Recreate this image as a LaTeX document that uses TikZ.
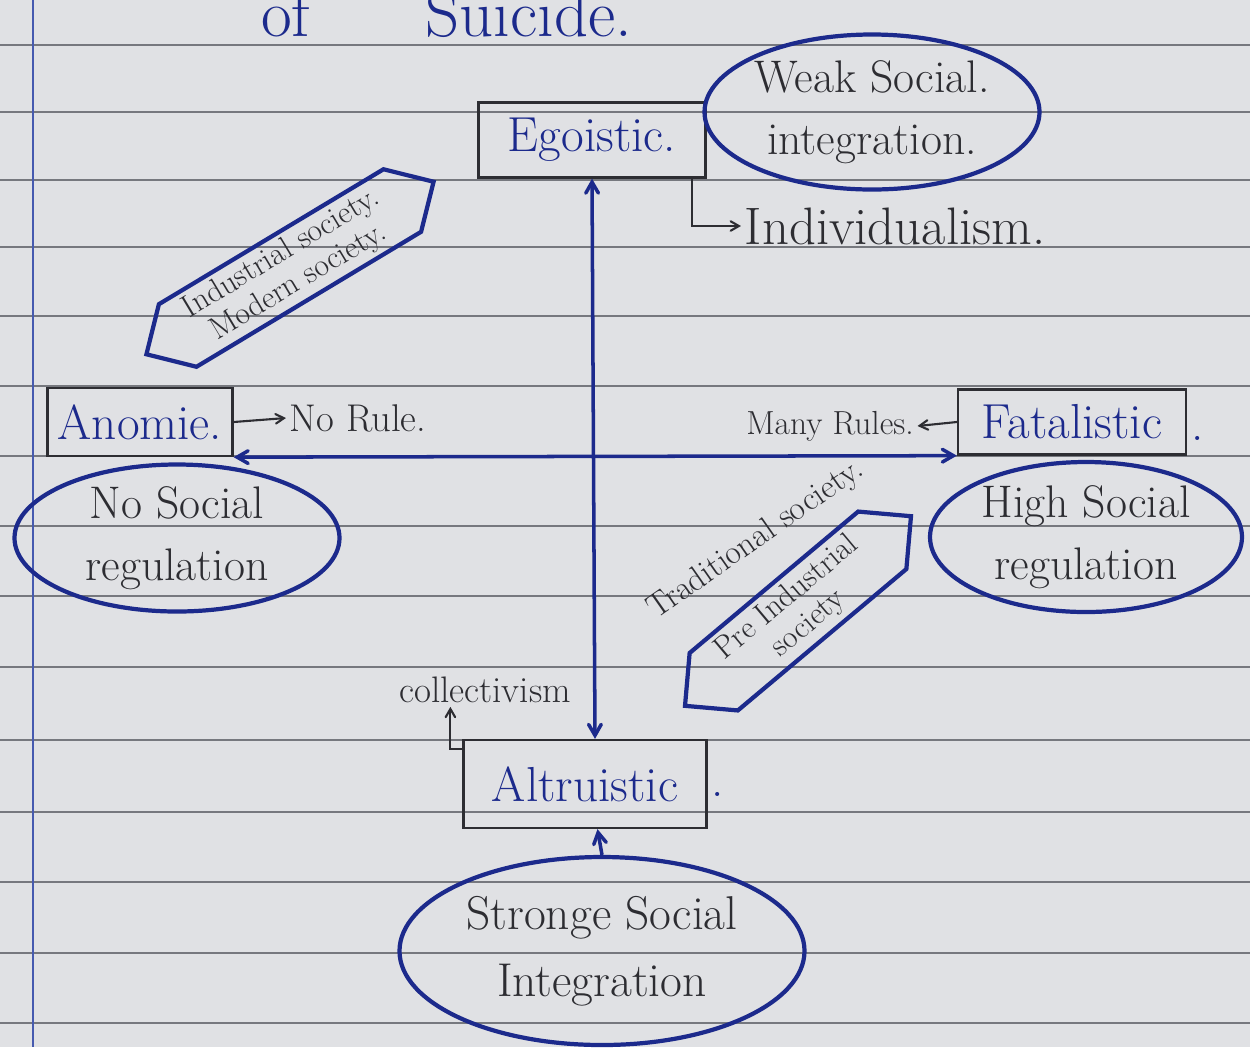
\documentclass[tikz,border=0pt]{standalone}
\usepackage{fontspec}
\usepackage{tikz}
\usetikzlibrary{positioning, arrows, shapes.geometric, shapes.symbols}

\definecolor{inkblue}{RGB}{28,42,140}
\definecolor{pencil}{RGB}{45,45,50}
\definecolor{paper}{RGB}{224,225,228}
\definecolor{ruling}{RGB}{118,120,126}
\definecolor{margin}{RGB}{70,90,175}

\tikzset{
  typebox/.style={draw=pencil, line width=1.3pt, text=inkblue, inner sep=0pt,
    font=\fontsize{28}{30}\selectfont},
  cloud/.style={ellipse, draw=inkblue, line width=2.4pt, text=pencil, inner sep=-8pt,
    align=center, font=\fontsize{26}{35}\selectfont},
  tag/.style={signal, signal to=east and west, draw=inkblue, line width=2.4pt,
    text=pencil, inner sep=0pt, align=center, font=\fontsize{18}{19}\selectfont},
  note/.style={text=pencil, inner sep=2pt},
  stop/.style={text=inkblue, font=\fontsize{28}{30}\selectfont, inner sep=1pt, label distance=1pt},
  link/.style={draw=inkblue, line width=2pt, >=angle 60},
  hook/.style={draw=pencil, line width=1.2pt, ->, >=angle 60},
}

\begin{document}
\begin{tikzpicture}[x=0.2mm,y=-0.2mm]
\useasboundingbox (0,0) rectangle (1250,1047);
\clip (0,0) rectangle (1250,1047);
\fill[paper] (0,0) rectangle (1250,1047);
\foreach \r in {45,112,180,247,316,386,456,526,596,667,740,812,882,953,1023}
  \draw[ruling, line width=1.1pt] (0,\r) -- (1250,\r);% la feuille
\draw[margin, line width=1.3pt] (33,0) -- (33,1047);

\node[anchor=base west, text=inkblue, font=\fontsize{38}{40}\selectfont] (title) at (255,36) {of\hspace{2.3cm}Suicide.};

% les types
\node[typebox, minimum width=4.54cm, minimum height=1.5cm] (Egoistic) at (592,140) {Egoistic.};
\node[typebox, minimum width=3.7cm, minimum height=1.36cm] (Anomie) at (140,422) {Anomie.};
\node[typebox, minimum width=4.56cm, minimum height=1.3cm,
  label={[stop, yshift=-0.33cm]east:.}] (Fatalistic) at (1072,422) {Fatalistic};
\node[typebox, minimum width=4.86cm, minimum height=1.76cm,
  label={[stop, yshift=-0.2cm]east:.}] (Altruistic) at (585,784) {Altruistic};

% les causes
\node[cloud, minimum width=6.7cm, minimum height=3.1cm] (Weak) at (872,112) {Weak Social.\\integration.};
\node[cloud, minimum width=6.5cm, minimum height=2.94cm] (NoReg) at (177,538) {No Social\\regulation};
\node[cloud, minimum width=6.24cm, minimum height=3cm] (HighReg) at (1086,537) {High Social\\regulation};
\node[cloud, minimum width=8.1cm, minimum height=3.76cm, font=\fontsize{27}{38}\selectfont] (Strong) at (602,951) {Stronge Social\\Integration};

\node[tag, rotate=31, minimum width=6.7cm, minimum height=1.46cm] (Modern) at (290,268) {Industrial society.\\Modern society.};
\node[tag, rotate=40, minimum width=5.9cm, minimum height=1.5cm] (PreInd) at (798,611) {Pre Industrial\\society};
\node[note, rotate=35, font=\fontsize{19}{21}\selectfont] (Trad) at (756,540) {Traditional society.};

% les notes
\node[note, font=\fontsize{30}{32}\selectfont] (Indiv) at (895,226) {Individualism.};
\node[note, font=\fontsize{22}{24}\selectfont] (NoRule) at (358,418) {No Rule.};
\node[note, font=\fontsize{19}{21}\selectfont] (ManyRules) at (830,426) {Many Rules.};
\node[note, font=\fontsize{21}{23}\selectfont] (collect) at (485,690) {collectivism};

% les fleches
\draw[link,<->] (Egoistic.south) -- ([xshift=0.2cm]Altruistic.north);
\draw[link,<->] (Anomie.south east) -- (Fatalistic.south west);
\draw[link,->] (Strong.north) -- ([xshift=0.25cm]Altruistic.south);

\draw[hook] ([xshift=-0.3cm]Egoistic.south east) |- (Indiv.west);
\draw[hook] (Anomie.east) -- (NoRule.west);
\draw[hook] (Fatalistic.west) -- (ManyRules.east);
\draw[hook] ([yshift=-0.2cm]Altruistic.north west) -| ([xshift=1.1cm]collect.south west);
\end{tikzpicture}
\end{document}
